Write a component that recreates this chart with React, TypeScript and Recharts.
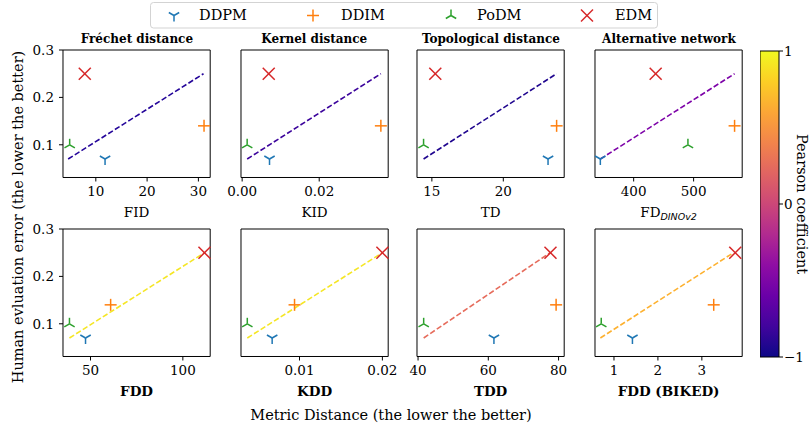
import React from "react";
import { ScatterChart, Scatter, BarChart, Bar, XAxis, YAxis, ReferenceArea, ReferenceLine } from "recharts";

const FONT = "'DejaVu Serif', serif";

const METHODS = ["DDPM", "DDIM", "PoDM", "EDM"];
const METHOD_COLORS = ["#1f77b4", "#ff7f0e", "#2ca02c", "#d62728"];
const HUMAN_ERROR = [0.07, 0.14, 0.1, 0.25];

// metric values per method (DDPM, DDIM, PoDM, EDM)
const FID = [11.8, 31.1, 4.9, 7.85];
const KID = [0.0071, 0.036, 0.0013, 0.0069];
const TD = [23.13, 23.73, 14.42, 15.24];
const FD_DINO = [344.4, 568.3, 490.5, 436.7];
const FDD = [47.3, 60.9, 38.6, 111.7];
const KDD = [0.0067, 0.0094, 0.0037, 0.02];
const TDD = [61.6, 79.3, 41.6, 77.7];
const FDD_BIKED = [1.42, 3.27, 0.71, 3.76];
const METRICS = [FID, KID, TD, FD_DINO, FDD, KDD, TDD, FDD_BIKED];

const TITLES = ["Fréchet distance", "Kernel distance", "Topological distance", "Alternative network"];
const X_LABELS = ["FID", "KID", "TD", "FD", "FDD", "KDD", "TDD", "FDD (BIKED)"];
const X_DOMAINS = [
  [3.6, 32.3], [-0.0003, 0.0379], [13.96, 24.26], [335.5, 581],
  [35.1, 114.8], [0.00294, 0.0207], [39.7, 81.6], [0.568, 3.918],
];
const X_TICKS = [
  [10, 20, 30], [0, 0.02], [15, 20], [400, 500],
  [50, 100], [0.01, 0.02], [40, 60, 80], [1, 2, 3],
];
const Y_DOMAIN = [0.031, 0.3];
const Y_TICKS = [0.1, 0.2, 0.3];

// dashed trend line, coloured by Pearson coefficient
const LINE_COLORS = ["#25069a", "#3c049c", "#20068f", "#7d03a8", "#f5e626", "#f5e626", "#e66c5c", "#fdb130"];
const LINE_START_X = [4.6, 0.0013, 14.42, 344.4, 38.6, 0.0037, 41.6, 0.69];
const LINE_END_X = [31.0, 0.036, 23.73, 568.3, 111.7, 0.02, 77.6, 3.72];
const LINE_Y = [0.07, 0.25];

const CBAR_RANGE = [-1, 1];
const CBAR_TICKS = [-1, 0, 1];
const PLASMA = ["#0d0887", "#41049d", "#6a00a8", "#8f0da4", "#b12a90", "#cc4778", "#e16462", "#f2844b", "#fca636", "#fcce25", "#f0f921"];

const COL_LEFT = [63.3, 240.7, 417.3, 595.3];
const ROW_TOP = [50, 229.3];
const PW = 147.2;
const PH = 127.5;

function Glyph({ kind, cx, cy, color, s = 12 }: any) {
  const h = s / 2;
  const common = { stroke: color, strokeWidth: 1.5, fill: "none" };
  if (kind === "DDPM")
    return (
      <g {...common}>
        <line x1={cx} y1={cy} x2={cx} y2={cy + h} />
        <line x1={cx} y1={cy} x2={cx - 0.866 * h} y2={cy - 0.5 * h} />
        <line x1={cx} y1={cy} x2={cx + 0.866 * h} y2={cy - 0.5 * h} />
      </g>
    );
  if (kind === "PoDM")
    return (
      <g {...common}>
        <line x1={cx} y1={cy} x2={cx} y2={cy - h} />
        <line x1={cx} y1={cy} x2={cx - 0.866 * h} y2={cy + 0.5 * h} />
        <line x1={cx} y1={cy} x2={cx + 0.866 * h} y2={cy + 0.5 * h} />
      </g>
    );
  if (kind === "DDIM")
    return (
      <g {...common}>
        <line x1={cx - h} y1={cy} x2={cx + h} y2={cy} />
        <line x1={cx} y1={cy - h} x2={cx} y2={cy + h} />
      </g>
    );
  return (
    <g {...common}>
      <line x1={cx - h} y1={cy - h} x2={cx + h} y2={cy + h} />
      <line x1={cx - h} y1={cy + h} x2={cx + h} y2={cy - h} />
    </g>
  );
}

function XLabel({ viewBox, i }: any) {
  const vb = viewBox || {};
  const cx = vb.x + vb.width / 2;
  const cy = vb.y + 35;
  const bold = i >= 4;
  return (
    <text x={cx} y={cy} dy="0.35em" textAnchor="middle" fontSize={13.5} fontFamily={FONT}
      fontWeight={bold ? "bold" : "normal"} fill="#000">
      {X_LABELS[i]}
      {i === 3 && (
        <tspan fontFamily="'DejaVu Sans'" fontStyle="italic" fontSize={9.5} dy={3}>DINOv2</tspan>
      )}
    </text>
  );
}

const tickStyle = { fontSize: 13.5, fill: "#000", fontFamily: FONT };

function Panel({ i }: { i: number }) {
  const row = Math.floor(i / 4);
  const col = i % 4;
  const YW = 45, MT = 10, MR = 24, XH = 55;
  const xs = METRICS[i];
  const fmt = (v: number) => (i === 1 ? v.toFixed(2) : String(v));
  return (
    <div style={{ position: "absolute", left: COL_LEFT[col] - YW, top: ROW_TOP[row] - MT }}>
      <ScatterChart width={YW + PW + MR} height={MT + PH + XH} margin={{ top: MT, right: MR, bottom: 0, left: 0 }}>
        <XAxis type="number" dataKey="x" domain={X_DOMAINS[i]} ticks={X_TICKS[i]} interval={0}
          tickFormatter={fmt} height={XH} axisLine={false} tickLine={{ stroke: "#000" }}
          tickSize={4} tickMargin={5} tick={tickStyle} label={<XLabel i={i} />} />
        <YAxis type="number" dataKey="y" domain={Y_DOMAIN} ticks={Y_TICKS} interval={0} width={YW}
          axisLine={false} tickLine={{ stroke: "#000" }} tickSize={4} tickMargin={5}
          tick={col === 0 ? tickStyle : false} tickFormatter={(v: number) => v.toFixed(1)} />
        <ReferenceArea x1={X_DOMAINS[i][0]} x2={X_DOMAINS[i][1]} y1={Y_DOMAIN[0]} y2={Y_DOMAIN[1]}
          fill="none" stroke="#000" strokeWidth={1} ifOverflow="visible" />
        <ReferenceLine
          segment={[{ x: LINE_START_X[i], y: LINE_Y[0] }, { x: LINE_END_X[i], y: LINE_Y[1] }]}
          stroke={LINE_COLORS[i]} strokeWidth={1.6} strokeDasharray="5.5 2.4" ifOverflow="visible" />
        {METHODS.map((m, k) => (
          <Scatter key={m} name={m} data={[{ x: xs[k], y: HUMAN_ERROR[k] }]} isAnimationActive={false}
            shape={(p: any) => <Glyph kind={m} cx={p.cx} cy={p.cy} color={METHOD_COLORS[k]} />} />
        ))}
      </ScatterChart>
    </div>
  );
}

function Colorbar() {
  const data = [{ name: "pearson", range: CBAR_RANGE }];
  const M = 12;
  return (
    <div style={{ position: "absolute", left: 760.3, top: 50.7 - M }}>
      <BarChart width={19 + 30} height={306 + 2 * M} data={data} margin={{ top: M, right: 0, bottom: M, left: 0 }}
        barCategoryGap={0} barGap={0}>
        <defs>
          <linearGradient id="plasma" x1="0" y1="1" x2="0" y2="0">
            {PLASMA.map((c, k) => (
              <stop key={k} offset={k / (PLASMA.length - 1)} stopColor={c} />
            ))}
          </linearGradient>
        </defs>
        <XAxis dataKey="name" hide />
        <YAxis type="number" orientation="right" domain={CBAR_RANGE} ticks={CBAR_TICKS} interval={0}
          width={30} axisLine={false} tickLine={{ stroke: "#000" }} tickSize={4} tickMargin={1} tick={tickStyle}
          tickFormatter={(v: number) => (v < 0 ? `\u2212${Math.abs(v)}` : String(v))} />
        <Bar dataKey="range" fill="url(#plasma)" stroke="#000" strokeWidth={1} isAnimationActive={false} />
      </BarChart>
    </div>
  );
}

const LEGEND_MARK_X = [174, 313, 451, 587];
const LEGEND_TEXT_X = [199, 341, 477, 615];

export default function App() {
  return (
    <div style={{ position: "absolute", left: 0, top: 0, width: 810, height: 428, background: "#fff" }}>
      <svg width={810} height={428} style={{ position: "absolute", left: 0, top: 0 }} fontFamily={FONT}>
        <rect x={150.5} y={2.5} width={507} height={25.5} rx={3} fill="#fff" stroke="#d3d3d3" />
        {METHODS.map((m, k) => (
          <g key={m}>
            <Glyph kind={m} cx={LEGEND_MARK_X[k]} cy={15.5} color={METHOD_COLORS[k]} />
            <text x={LEGEND_TEXT_X[k]} y={15} dy="0.35em" fontSize={14.5} fill="#000">{m}</text>
          </g>
        ))}
        {TITLES.map((t, k) => (
          <text key={t} x={COL_LEFT[k] + PW / 2} y={38.3} dy="0.35em" textAnchor="middle"
            fontSize={12} fontWeight="bold" fill="#000">{t}</text>
        ))}
        <text transform="translate(18,217) rotate(-90)" textAnchor="middle" dy="0.35em" fontSize={14.5} fill="#000">
          Human evluation error (the lower the better)
        </text>
        <text x={391} y={415} dy="0.35em" textAnchor="middle" fontSize={14.5} fill="#000">
          Metric Distance (the lower the better)
        </text>
        <text transform="translate(802,204) rotate(90)" textAnchor="middle" dy="0.35em" fontSize={14.5} fill="#000">
          Pearson coefficient
        </text>
      </svg>
      {METRICS.map((_, i) => (
        <Panel key={i} i={i} />
      ))}
      <Colorbar />
    </div>
  );
}
